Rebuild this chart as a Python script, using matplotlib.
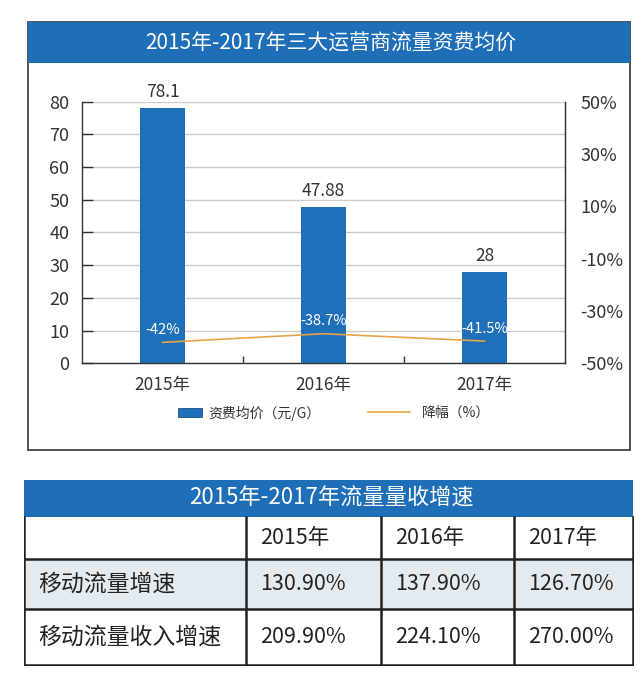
import matplotlib
matplotlib.use("Agg")
import matplotlib.pyplot as plt
from matplotlib.patches import Rectangle, Patch
from matplotlib.lines import Line2D
from matplotlib.ticker import FuncFormatter

plt.rcParams['font.family'] = ['Noto Sans CJK SC', 'DejaVu Sans']

# 数据
years = ['2015年', '2016年', '2017年']
price = [78.1, 47.88, 28]          # 资费均价（元/G）
drop = [-42, -38.7, -41.5]         # 降幅（%）
drop_labels = ['-42%', '-38.7%', '-41.5%']

table_title = '2015年-2017年流量量收增速'
row_names = ['移动流量增速', '移动流量收入增速']
traffic_growth = ['130.90%', '137.90%', '126.70%']
income_growth = ['209.90%', '224.10%', '270.00%']

chart_title = '2015年-2017年三大运营商流量资费均价'

BLUE = '#1e6fb8'
BAR = '#1f70ba'
ORANGE = '#e9a248'
DARK = '#333333'

W, H = 642, 679
def fx(px):
    return px / W
def fy(py):
    return 1 - py / H

fig = plt.figure(figsize=(W / 100, H / 100), dpi=100)

# 上方图表的外框和标题栏
fig.patches.append(Rectangle((fx(28), fy(450)), (630 - 28) / W, (450 - 22) / H,
                             fill=False, edgecolor=DARK, lw=1.2,
                             transform=fig.transFigure))
fig.patches.append(Rectangle((fx(28), fy(63)), (630 - 28) / W, (63 - 22) / H,
                             facecolor=BLUE, edgecolor='none',
                             transform=fig.transFigure))
fig.text(fx(331), fy(44), chart_title, color='white', fontsize=15,
         ha='center', va='center')

# 柱状图
ax = fig.add_axes([fx(82), fy(363.3), (565 - 82) / W, (363.3 - 101.7) / H])
x = range(len(years))
bars = ax.bar(x, price, width=0.28, color=BAR, zorder=2)
ax.bar_label(bars, fmt='%g', padding=5, fontsize=12.5, color=DARK)
ax.set_xlim(-0.5, 2.5)
ax.set_ylim(0, 80)
ax.set_yticks(range(0, 81, 10))
ax.set_xticks(list(x))
ax.set_xticklabels(years)
ax.set_xticks([0.5, 1.5], minor=True)
ax.tick_params(axis='x', which='major', length=0, pad=9, labelsize=12.5, labelcolor=DARK)
ax.tick_params(axis='x', which='minor', direction='in', length=5, color=DARK, width=1)
ax.tick_params(axis='y', direction='in', length=8, color=DARK, width=1,
               pad=9, labelsize=13, labelcolor=DARK)
ax.grid(axis='y', color='#cccccc', lw=1, zorder=0)
ax.set_axisbelow(True)
ax.spines['top'].set_visible(False)
for s in ['left', 'right', 'bottom']:
    ax.spines[s].set_color(DARK)
    ax.spines[s].set_linewidth(1)

# 降幅折线
ax2 = ax.twinx()
ax2.plot(list(x), drop, color=ORANGE, lw=1.2, zorder=3)
ax2.set_ylim(-50, 50)
ax2.set_yticks(range(-50, 51, 20))
ax2.yaxis.set_major_formatter(FuncFormatter(lambda v, p: f'{v:.0f}%'))
ax2.tick_params(axis='y', length=0, pad=11, labelsize=13, labelcolor=DARK)
for s in ['top', 'left', 'bottom']:
    ax2.spines[s].set_visible(False)
ax2.spines['right'].set_color(DARK)
for xi, yi, lab in zip(x, drop, drop_labels):
    ax2.annotate(lab, (xi, yi), xytext=(0, 9), textcoords='offset points',
                 ha='center', va='center', color='white', fontsize=10.5)

# 图例
leg1 = fig.legend(handles=[Patch(facecolor=BAR, edgecolor='#1a4f80', lw=0.6)],
                  labels=['资费均价（元/G）'], loc='center left',
                  bbox_to_anchor=(fx(178), fy(413)), frameon=False,
                  fontsize=10, handlelength=1.7, handleheight=0.6,
                  handletextpad=0.45, borderpad=0, borderaxespad=0,
                  labelcolor=DARK)
leg2 = fig.legend(handles=[Line2D([], [], color=ORANGE, lw=1.2)],
                  labels=['降幅（%）'], loc='center left',
                  bbox_to_anchor=(fx(368), fy(413)), frameon=False,
                  fontsize=10, handlelength=3.0, handletextpad=0.85,
                  borderpad=0, borderaxespad=0, labelcolor=DARK)

# 下方表格
tx = fig.add_axes([fx(24), fy(666), (634 - 24) / W, (666 - 479) / H])
tx.set_xlim(24, 634)
tx.set_ylim(666, 479)
tx.axis('off')

col_edges = [24, 246, 381, 514, 633]
row_edges = [480, 517, 559, 609, 665]

tx.add_patch(Rectangle((col_edges[0], row_edges[0]), col_edges[-1] - col_edges[0],
                       row_edges[1] - row_edges[0], facecolor=BLUE, edgecolor='none'))
tx.add_patch(Rectangle((col_edges[0], row_edges[2]), col_edges[-1] - col_edges[0],
                       row_edges[3] - row_edges[2], facecolor='#e4ebf0', edgecolor='none'))
tx.text(331, (row_edges[0] + row_edges[1]) / 2, table_title,
        color='white', fontsize=16, ha='center', va='center')

line_kw = dict(color='#222222', lw=1.8, solid_capstyle='projecting')
for ry in row_edges[2:]:
    tx.plot([col_edges[0], col_edges[-1]], [ry, ry], **line_kw)
for cx in col_edges:
    tx.plot([cx, cx], [row_edges[1], row_edges[-1]], **line_kw)

for j, yr in enumerate(years):
    tx.text(col_edges[j + 1] + 14, (row_edges[1] + row_edges[2]) / 2, yr,
            fontsize=15.5, color='#222222', ha='left', va='center')

rows = [traffic_growth, income_growth]
for i, (name, vals) in enumerate(zip(row_names, rows)):
    cy = (row_edges[i + 2] + row_edges[i + 3]) / 2
    tx.text(col_edges[0] + 14, cy, name, fontsize=16.5, color='#222222',
            ha='left', va='center')
    for j, v in enumerate(vals):
        tx.text(col_edges[j + 1] + 14, cy, v, fontsize=15.5, color='#222222',
                ha='left', va='center')

fig.savefig('out.png', dpi=100)
